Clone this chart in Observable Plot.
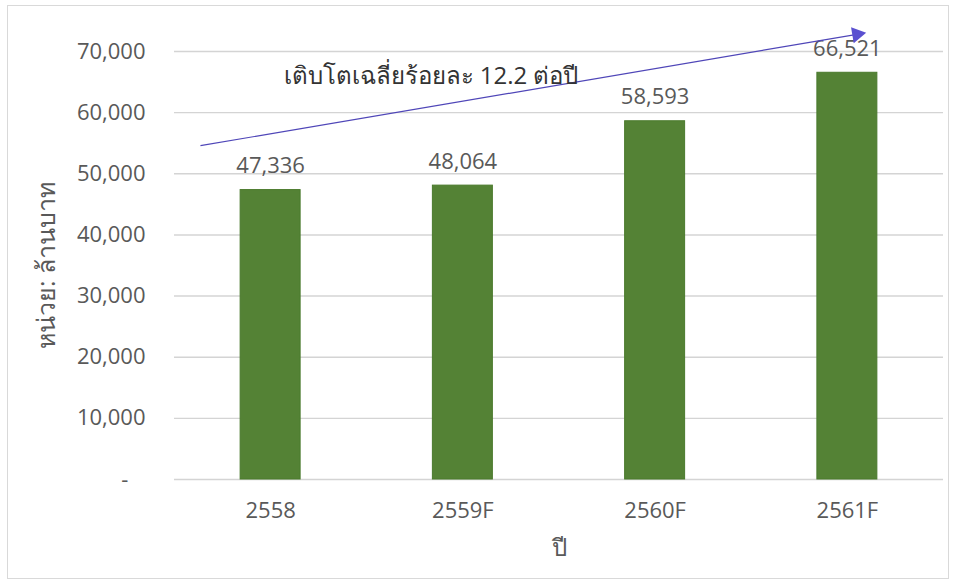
<!DOCTYPE html>
<html>
<head>
<meta charset="utf-8">
<script src="https://cdn.jsdelivr.net/npm/d3@7"></script>
<script src="https://cdn.jsdelivr.net/npm/@observablehq/plot@0.6"></script>
<style>
  html, body { margin: 0; padding: 0; background: #ffffff; }
  #wrap { position: relative; width: 958px; height: 583px; }
  #border { position: absolute; left: 7px; top: 5px; width: 942px; height: 574px; border: 1px solid #d9d9d9; box-sizing: border-box; pointer-events: none; }
</style>
</head>
<body>
<div id="wrap"><div id="border"></div></div>
<script>
const years = ["2558", "2559F", "2560F", "2561F"];
const values = [47336, 48064, 58593, 66521];
const yTicks = [0, 10000, 20000, 30000, 40000, 50000, 60000, 70000];
const yTitle = "หน่วย: ล้านบาท";
const xTitle = "ปี";
const growthText = "เติบโตเฉลี่ยร้อยละ 12.2 ต่อปี";
// annotation arrow endpoints in data space (x = category index, y = value)
const arrowFrom = [-0.365, 54600];
const arrowTo = [3.05, 72800];
const growthTextAt = [0.067, 64700];

const idx = years.map((_, i) => i);
const fmt = d3.format(",");
const font = "'Open Sans', 'Noto Sans', sans-serif";
const gray = "#595959";
const half = 0.156;
const fs = 22;

const chart = Plot.plot({
  width: 958,
  height: 583,
  marginLeft: 174,
  marginRight: 15,
  marginTop: 51,
  marginBottom: 104,
  style: { fontFamily: font, background: "transparent", overflow: "visible" },
  x: { type: "linear", domain: [-0.5, years.length - 0.5] },
  y: { domain: [0, 70000] },
  marks: [
    Plot.gridY(yTicks, { stroke: "#d4d4d4", strokeOpacity: 1, strokeWidth: 1.4 }),
    Plot.rect(idx, {
      x1: i => i - half, x2: i => i + half,
      y1: 0, y2: i => values[i],
      fill: "#548235", stroke: "#4a7a2c", strokeWidth: 1
    }),
    Plot.text(idx, {
      x: i => i, y: i => values[i], text: i => fmt(values[i]),
      dy: -24, lineAnchor: "middle", fontSize: fs, fill: gray
    }),
    Plot.axisY({
      ticks: yTicks, tickSize: 0, tickPadding: 29, label: null,
      tickFormat: d => d === 0 ? "-\u00a0\u00a0\u00a0" : fmt(d),
      fontSize: fs, color: gray
    }),
    Plot.axisX({
      ticks: idx, tickSize: 0, tickPadding: 23, label: null,
      tickFormat: i => years[i], fontSize: fs, color: gray
    }),
    Plot.text([yTitle], {
      frameAnchor: "left", rotate: -90, dx: -128, fontSize: 25, fill: gray, textAnchor: "middle"
    }),
    Plot.text([xTitle], {
      frameAnchor: "bottom", dy: 69, lineAnchor: "middle", fontSize: 24, fill: gray
    }),
    Plot.link([0], {
      x1: () => arrowFrom[0], y1: () => arrowFrom[1],
      x2: () => arrowTo[0], y2: () => arrowTo[1],
      stroke: "#4f46b8", strokeWidth: 1.2
    }),
    Plot.dot([0], {
      x: () => arrowTo[0], y: () => arrowTo[1], symbol: "triangle", r: 6,
      rotate: 80.4, fill: "#5a50d0", stroke: "none"
    }),
    Plot.text([growthText], {
      x: () => growthTextAt[0], y: () => growthTextAt[1], textAnchor: "start",
      lineAnchor: "bottom", fontSize: 24, fill: "#333333"
    })
  ]
});
chart.style.position = "absolute";
chart.style.left = "0px";
chart.style.top = "0px";
document.getElementById("wrap").appendChild(chart);
</script>
</body>
</html>
